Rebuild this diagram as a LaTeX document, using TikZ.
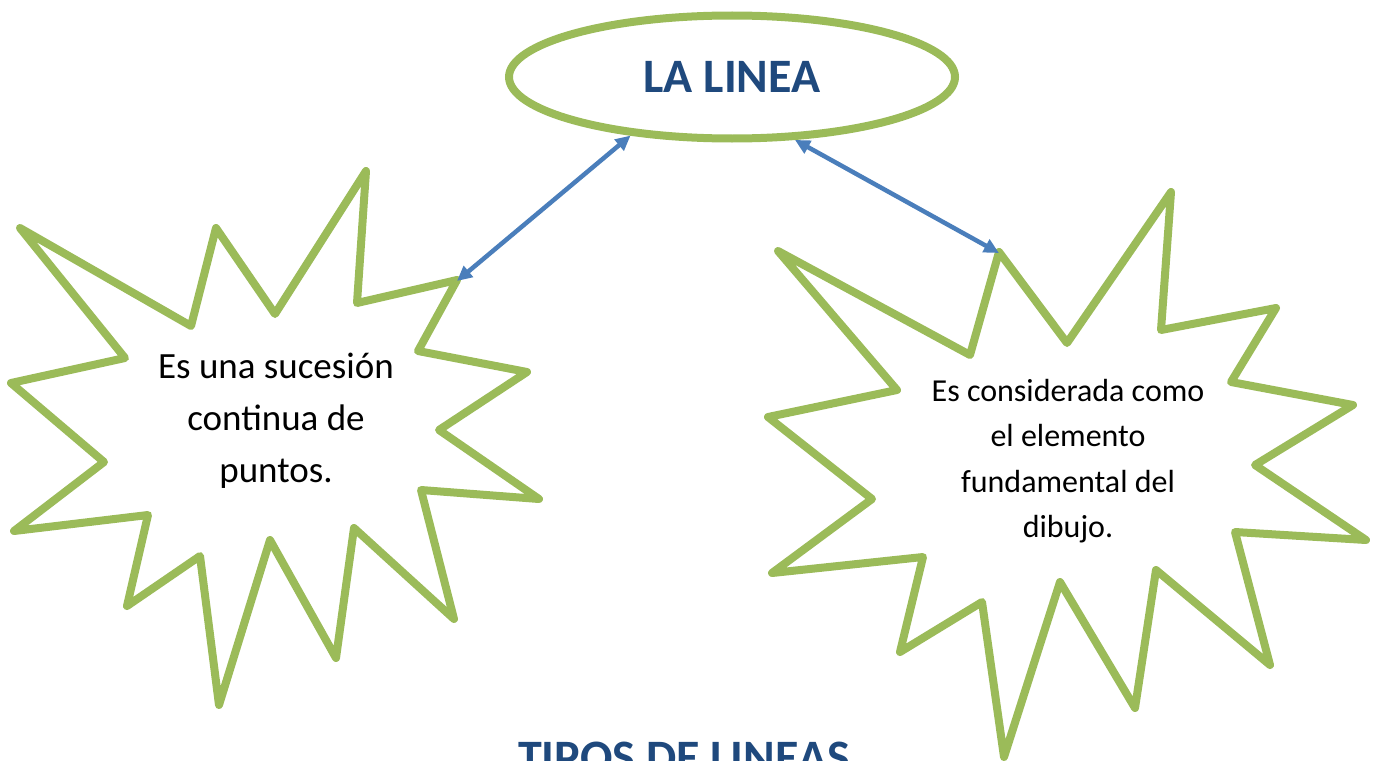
\documentclass[tikz,border=0pt]{standalone}
\usepackage{fontspec}
\setmainfont{Carlito}
\usepackage{tikz}
\usetikzlibrary{shapes.geometric,arrows.meta}
\definecolor{verde}{HTML}{9BBB59}
\definecolor{azul}{HTML}{4A7EBB}
\definecolor{titulo}{HTML}{1F497D}

\begin{document}
\begin{tikzpicture}[x=1pt,y=-1pt,
  estrella/.style={draw=verde,line width=8pt,line join=round,line cap=round},
  flecha/.style={draw=azul,line width=4.5pt,{Triangle[length=15pt,width=14pt]}-{Triangle[length=15pt,width=14pt]}},
  texto/.style={align=center,font=\fontsize{37}{52}\selectfont},
  texto2/.style={align=center,font=\fontsize{32}{45.5}\selectfont}]
\useasboundingbox (0,0) rectangle (1378,760);
\clip (0,0) rectangle (1378,760);
\node[shape=ellipse,draw=verde,line width=8pt,minimum width=446pt,minimum height=123pt,inner sep=0pt] (L) at (732,77) {\fontsize{48}{52}\selectfont\bfseries\color{titulo}LA LINEA};
% estrella izquierda
\draw[estrella] (366,171) -- (357,303) -- (457,280) -- (418,351) -- (527,372) -- (439,430) -- (539,499) -- (421,490) -- (454,619) -- (354,528) -- (336,658) -- (270,540) -- (219,705) -- (200,556) -- (127,606) -- (148,515) -- (14,531) -- (104,462) -- (11,383) -- (125,358) -- (20,228) -- (191,326) -- (216,228) -- (275,314) -- cycle;
% estrella derecha
\draw[estrella] (1171,192) -- (1161,330) -- (1276,308) -- (1231,382) -- (1353,405) -- (1255,465) -- (1366,540) -- (1235,532) -- (1270,665) -- (1156,570) -- (1135,708) -- (1060,582) -- (1004,757) -- (982,602) -- (900,652) -- (923,557) -- (772,573) -- (872,499) -- (768,417) -- (897,390) -- (778,251) -- (970,355) -- (999,252) -- (1067,343) -- cycle;
\coordinate (PA) at (457,281);
\coordinate (PB) at (999,253);
\node[texto] (A) at (276,421) {Es una sucesión\\continua de\\puntos.};
\node[texto2] (B) at (1068,461) {Es considerada como\\el elemento\\fundamental del\\dibujo.};
\node[anchor=base,font=\fontsize{48}{52}\selectfont\bfseries,text=titulo] (T) at (684,773) {TIPOS DE LINEAS};
\path (PA) edge[flecha] (L.210);
\path (PB) edge[flecha] (L.315);
\end{tikzpicture}
\end{document}
